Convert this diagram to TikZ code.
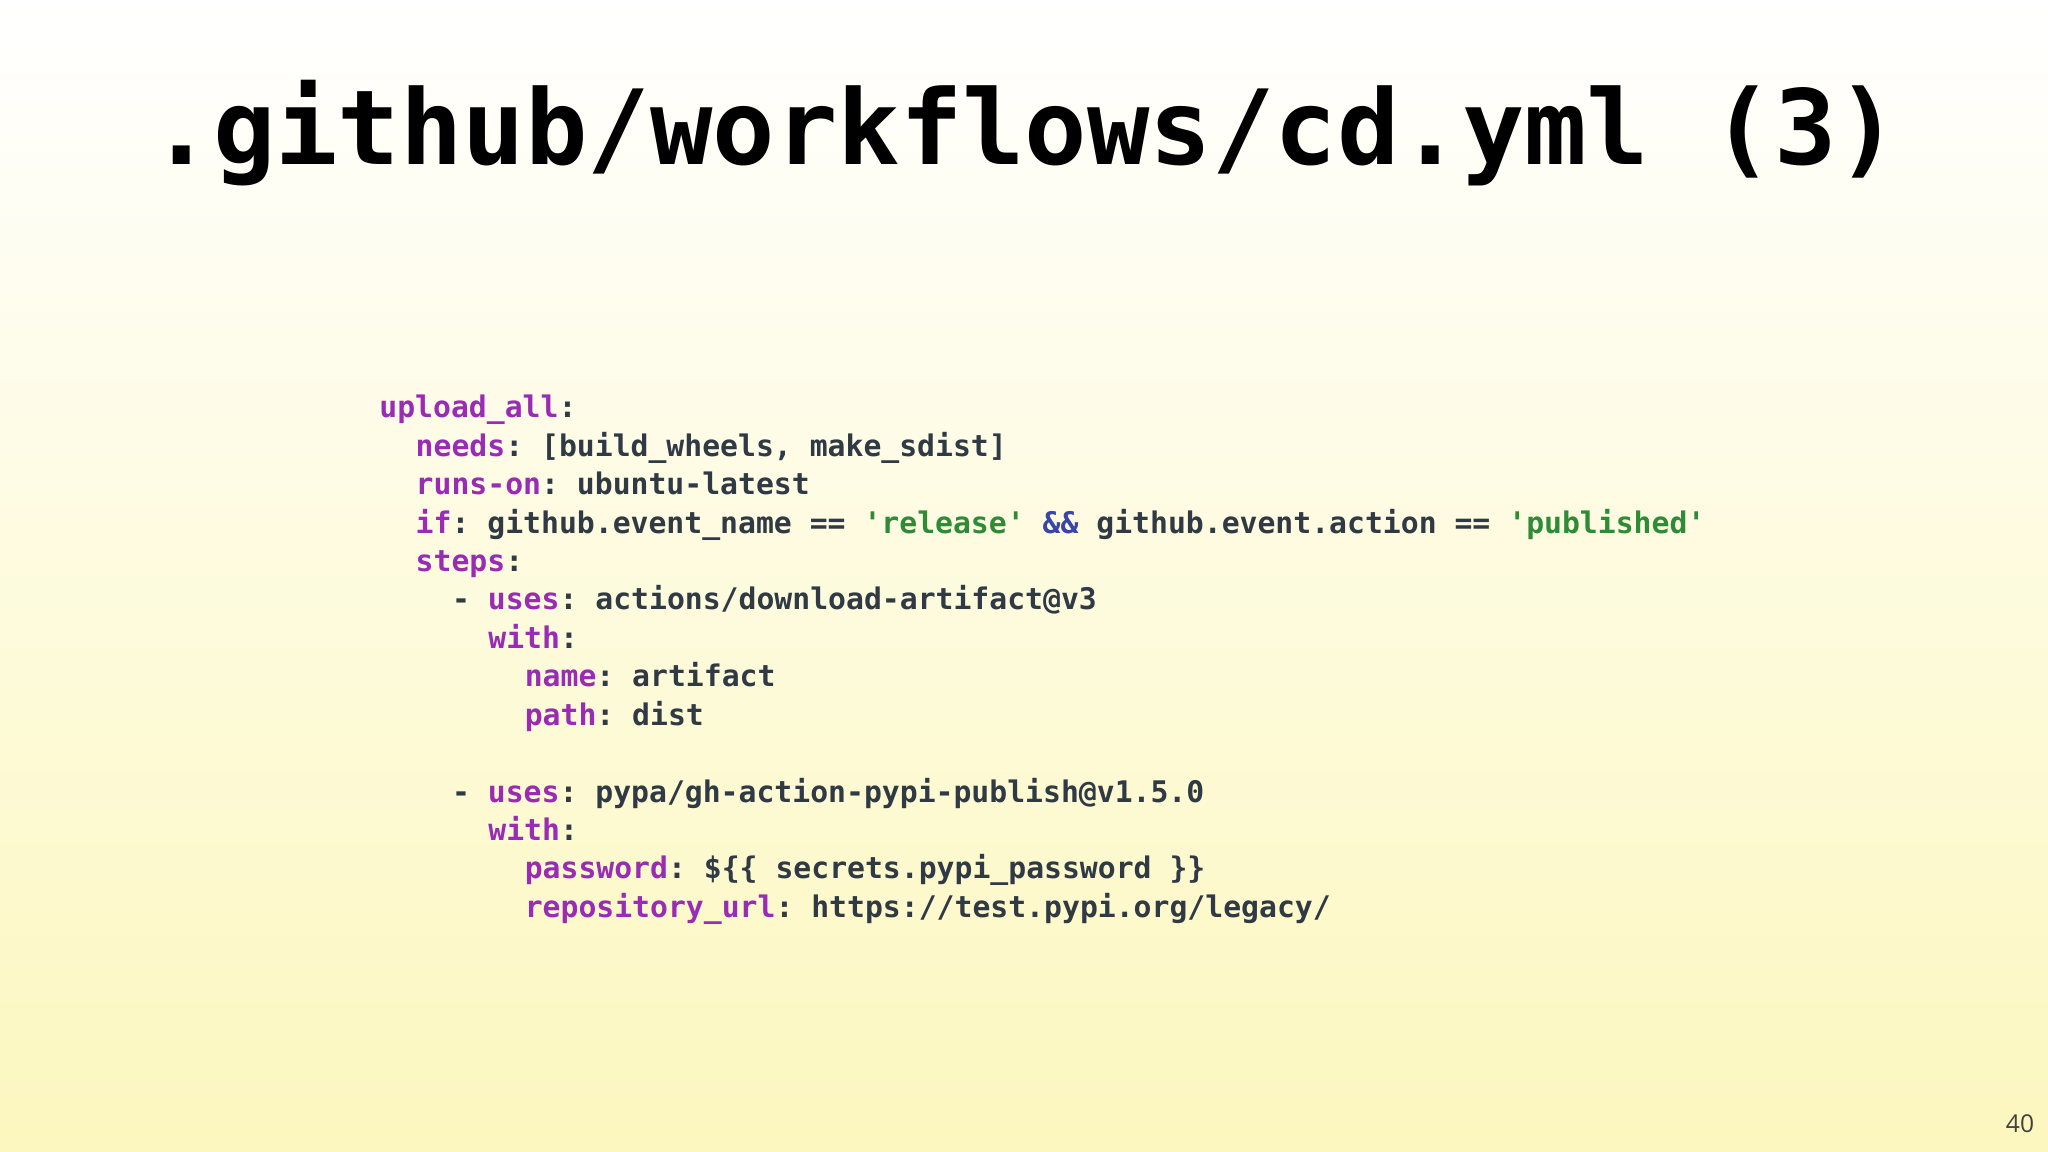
\documentclass[tikz,border=0pt]{standalone}
\usepackage{fontspec}
\setmonofont{DejaVu Sans Mono}
\setsansfont{Open Sans}
\definecolor{keyc}{HTML}{9A2BB5}
\definecolor{valc}{HTML}{2F3A45}
\definecolor{strc}{HTML}{2E8B36}
\definecolor{opc}{HTML}{3A45A8}
\definecolor{bgtop}{HTML}{FFFFFF}
\definecolor{bgbot}{HTML}{FCF7BE}
\newcommand{\Kc}[1]{\textcolor{keyc}{#1}}
\newcommand{\Sc}[1]{\textcolor{strc}{#1}}
\tikzset{codeline/.style={anchor=base west,inner sep=0pt,font=\ttfamily\bfseries\fontsize{8.46pt}{9pt}\selectfont,text=valc}}
\begin{document}
\begin{tikzpicture}[x=0.01cm,y=-0.01cm]
\shade[top color=bgtop,bottom color=bgbot] (0,0) rectangle (2048,1152);
\useasboundingbox (0,0) rectangle (2048,1152);
\node[inner sep=0pt,font=\ttfamily\bfseries\fontsize{29.5pt}{36pt}\selectfont] (title) at (1025,133) {.github/workflows/cd.yml (3)};
\def\cw{18.17}
\def\lh{38.4}
\def\xo{378.7}
\def\yo{418}
\node[codeline] (l1) at (\xo,\yo) {\Kc{upload\_all}:};
\node[codeline] (l2) at (\xo+2*\cw,\yo+1*\lh) {\Kc{needs}: [build\_wheels, make\_sdist]};
\node[codeline] (l3) at (\xo+2*\cw,\yo+2*\lh) {\Kc{runs-on}: ubuntu-latest};
\node[codeline] (l4) at (\xo+2*\cw,\yo+3*\lh) {\Kc{if}: github.event\_name == \Sc{'release'} \textcolor{opc}{\&\&} github.event.action == \Sc{'published'}};
\node[codeline] (l5) at (\xo+2*\cw,\yo+4*\lh) {\Kc{steps}:};
\node[codeline] (l6) at (\xo+4*\cw,\yo+5*\lh) {- \Kc{uses}: actions/download-artifact@v3};
\node[codeline] (l7) at (\xo+6*\cw,\yo+6*\lh) {\Kc{with}:};
\node[codeline] (l8) at (\xo+8*\cw,\yo+7*\lh) {\Kc{name}: artifact};
\node[codeline] (l9) at (\xo+8*\cw,\yo+8*\lh) {\Kc{path}: dist};
\node[codeline] (l10) at (\xo+4*\cw,\yo+10*\lh) {- \Kc{uses}: pypa/gh-action-pypi-publish@v1.5.0};
\node[codeline] (l11) at (\xo+6*\cw,\yo+11*\lh) {\Kc{with}:};
\node[codeline] (l12) at (\xo+8*\cw,\yo+12*\lh) {\Kc{password}: \$\{\{ secrets.pypi\_password \}\}};
\node[codeline] (l13) at (\xo+8*\cw,\yo+13*\lh) {\Kc{repository\_url}: https://test.pypi.org/legacy/};
\node[inner sep=0pt,font=\sffamily\fontsize{7pt}{8pt}\selectfont,text=black!75] (pg) at (2020,1124) {40};
\end{tikzpicture}
\end{document}
